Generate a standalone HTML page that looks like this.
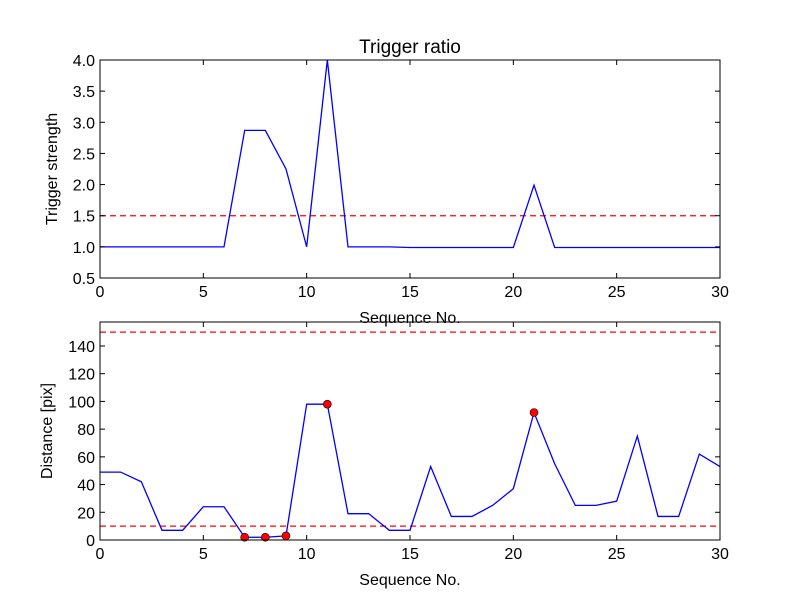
<!DOCTYPE html>
<html><head><meta charset="utf-8"><style>body{margin:0;background:#fff}svg{font-family:"Liberation Sans","DejaVu Sans",sans-serif}</style></head>
<body>
<svg id="c" width="800" height="600"></svg>
<script>
const seq=[0,1,2,3,4,5,6,7,8,9,10,11,12,13,14,15,16,17,18,19,20,21,22,23,24,25,26,27,28,29,30];
const ratio=[1,1,1,1,1,1,1,2.87,2.87,2.25,1,4.0,1,1,1,0.99,0.99,0.99,0.99,0.99,0.99,1.99,0.99,0.99,0.99,0.99,0.99,0.99,0.99,0.99,0.99];
const dist=[49,49,42,7,7,24,24,2,2,3,98,98,19,19,7,7,53,17,17,25,37,92,55,25,25,28,75,17,17,62,53];
const xTicks=[0,5,10,15,20,25,30];
const yTicksTop=[0.5,1.0,1.5,2.0,2.5,3.0,3.5,4.0];
const yTicksBot=[0,20,40,60,80,100,120,140];
const ratioThresh=[1.5];
const distThresh=[10,150];
const NS="http://www.w3.org/2000/svg";
const svg=document.getElementById('c');
function mk(t,a,p){const e=document.createElementNS(NS,t);for(const k in a)e.setAttribute(k,a[k]);(p||svg).appendChild(e);return e;}
function panel(name,top,bot,ymin,ymax,yt,fmt,vals,thr,ylabel,title,markers){
  const L=100,R=720;
  const g=mk('g',{});
  
  
  const X=v=>L+(v-0)/(30-0)*(R-L);
  const Y=v=>bot-(v-ymin)/(ymax-ymin)*(bot-top);
  thr.forEach(t=>{const l=mk('line',{x1:L,x2:R,y1:Y(t),y2:Y(t),stroke:'#f00','stroke-width':1.2,'stroke-dasharray':'6,4'},g);
    });
  const p=mk('polyline',{points:vals.map((v,i)=>X(seq[i])+','+Y(v)).join(' '),fill:'none',stroke:'#00f','stroke-width':1.3},g);
  
  if(markers){vals.forEach((v,i)=>{if(ratio[i]>1.5){const c=mk('circle',{cx:X(seq[i]),cy:Y(v),r:4,fill:'#f00',stroke:'#000','stroke-width':0.6},g);
    }});}
  const fr=mk('rect',{x:L,y:top,width:R-L,height:bot-top,fill:'none',stroke:'#000','stroke-width':1},g);
  
  xTicks.forEach(t=>{mk('line',{x1:X(t),x2:X(t),y1:bot,y2:bot-5,stroke:'#000'},g);mk('line',{x1:X(t),x2:X(t),y1:top,y2:top+5,stroke:'#000'},g);
    const tx=mk('text',{x:X(t),y:bot+19,'text-anchor':'middle','font-size':16},g);tx.textContent=t;
    });
  yt.forEach(t=>{mk('line',{x1:L,x2:L+5,y1:Y(t),y2:Y(t),stroke:'#000'},g);mk('line',{x1:R,x2:R-5,y1:Y(t),y2:Y(t),stroke:'#000'},g);
    const tx=mk('text',{x:L-5,y:Y(t)+6,'text-anchor':'end','font-size':16},g);tx.textContent=fmt(t);
    });
  const xl=mk('text',{x:410,y:bot+45,'text-anchor':'middle','font-size':16},g);xl.textContent='Sequence No.';
  
  const yl=mk('text',{x:0,y:0,'text-anchor':'middle','font-size':16,transform:`translate(${name==='top-panel'?57:52},${(top+bot)/2}) rotate(-90)`},g);yl.textContent=ylabel;
  
  if(title){const tt=mk('text',{x:410,y:53,'text-anchor':'middle','font-size':19},g);tt.textContent=title;
    }
}
panel('top-panel',60,278,0.5,4.0,yTicksTop,t=>t.toFixed(1),ratio,ratioThresh,'Trigger strength','Trigger ratio',false);
panel('bottom-panel',322,540,0,157.3,yTicksBot,t=>String(t),dist,distThresh,'Distance [pix]',null,true);
</script>
</body></html>
